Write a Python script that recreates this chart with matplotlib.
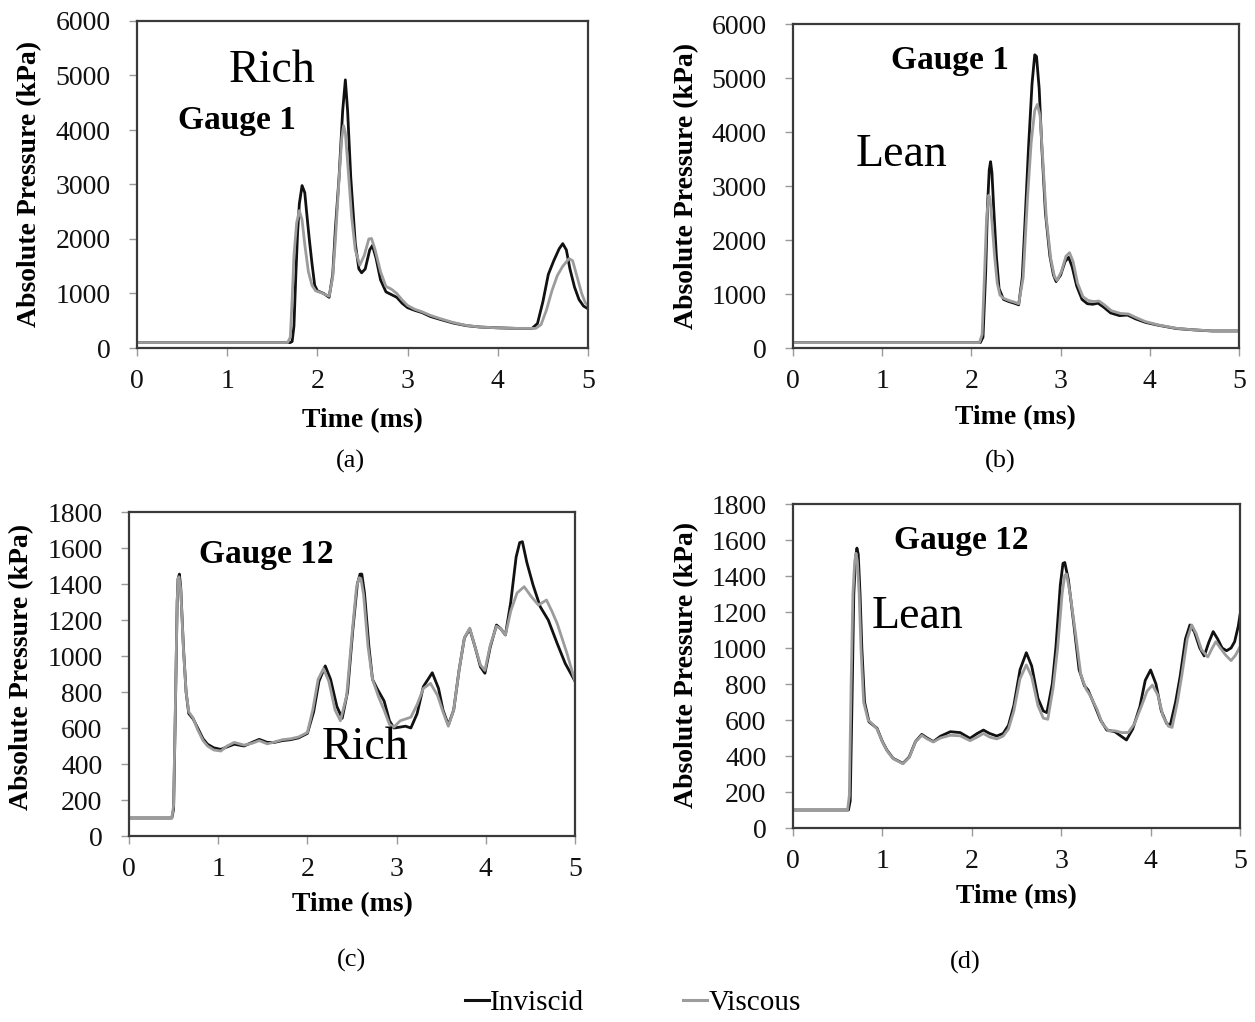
import matplotlib
matplotlib.use("Agg")
import matplotlib.pyplot as plt
from matplotlib.lines import Line2D
from matplotlib.ticker import MultipleLocator

plt.rcParams['font.family'] = ['Liberation Serif', 'DejaVu Serif']

W, H = 1255, 1022

# ---------------------------------------------------------------------------
# data (time in ms, absolute pressure in kPa)
# ---------------------------------------------------------------------------
# (a) Gauge 1, rich
t_a_inv = [0, 1.70, 1.72, 1.74, 1.76, 1.78, 1.80, 1.83, 1.86, 1.88, 1.91, 1.94, 1.97, 2.00,
           2.07, 2.13, 2.17, 2.20, 2.24, 2.28, 2.31, 2.335, 2.37, 2.42, 2.46, 2.49, 2.53,
           2.58, 2.61, 2.65, 2.70, 2.76, 2.82, 2.88, 2.94, 3.00, 3.08, 3.16, 3.25, 3.35,
           3.50, 3.65, 3.80, 4.00, 4.20, 4.38, 4.44, 4.50, 4.56, 4.62, 4.68, 4.72, 4.76,
           4.80, 4.85, 4.90, 4.95, 5.00]
p_a_inv = [100, 100, 120, 400, 1300, 2100, 2650, 2980, 2850, 2500, 2000, 1550, 1150, 1050,
           1000, 930, 1350, 2200, 3130, 4350, 4920, 4350, 3130, 1920, 1450, 1380, 1450,
           1800, 1880, 1650, 1250, 1030, 980, 930, 820, 740, 690, 650, 580, 530,
           460, 410, 385, 370, 360, 360, 450, 850, 1350, 1600, 1820, 1915, 1800,
           1450, 1120, 890, 770, 720]
t_a_vis = [0, 1.67, 1.70, 1.72, 1.74, 1.77, 1.80, 1.83, 1.86, 1.90, 1.94, 1.98, 2.05, 2.13,
           2.17, 2.20, 2.24, 2.27, 2.29, 2.31, 2.34, 2.38, 2.42, 2.47, 2.52, 2.57, 2.60,
           2.64, 2.70, 2.76, 2.82, 2.88, 2.94, 3.00, 3.08, 3.16, 3.25, 3.35, 3.50, 3.65,
           3.80, 4.00, 4.20, 4.42, 4.48, 4.54, 4.60, 4.66, 4.72, 4.79, 4.83, 4.88, 4.93,
           4.97, 5.00]
p_a_vis = [100, 100, 200, 900, 1700, 2300, 2520, 2350, 1900, 1400, 1150, 1050, 1010, 950,
           1300, 2000, 3100, 3850, 4080, 3950, 3300, 2400, 1800, 1520, 1700, 2000, 2010,
           1800, 1400, 1130, 1080, 1000, 880, 780, 710, 665, 600, 545, 470, 415,
           385, 370, 360, 360, 430, 700, 1050, 1330, 1500, 1640, 1600, 1300, 1000,
           830, 780]

# (b) Gauge 1, lean
t_b_inv = [0, 2.10, 2.13, 2.16, 2.18, 2.20, 2.215, 2.23, 2.25, 2.28, 2.31, 2.36, 2.42, 2.48,
           2.53, 2.57, 2.60, 2.64, 2.68, 2.71, 2.73, 2.76, 2.79, 2.83, 2.88, 2.92, 2.95,
           3.00, 3.05, 3.09, 3.13, 3.18, 3.24, 3.30, 3.36, 3.42, 3.48, 3.56, 3.66, 3.75,
           3.84, 3.95, 4.10, 4.30, 4.50, 4.70, 5.00]
p_b_inv = [100, 100, 200, 1400, 2600, 3300, 3450, 3250, 2600, 1700, 1100, 900, 860, 830,
           800, 1300, 2300, 3700, 4900, 5430, 5400, 4800, 3700, 2500, 1700, 1350, 1230,
           1350, 1600, 1680, 1500, 1150, 900, 820, 810, 830, 760, 650, 600, 610,
           540, 475, 420, 360, 335, 315, 315]
t_b_vis = [0, 2.09, 2.12, 2.15, 2.17, 2.195, 2.21, 2.23, 2.26, 2.29, 2.32, 2.36, 2.42, 2.48,
           2.53, 2.58, 2.63, 2.67, 2.71, 2.74, 2.77, 2.80, 2.84, 2.89, 2.93, 2.96, 3.01,
           3.06, 3.10, 3.14, 3.19, 3.25, 3.31, 3.37, 3.43, 3.49, 3.57, 3.67, 3.76, 3.85,
           3.95, 4.10, 4.30, 4.50, 4.70, 5.00]
p_b_vis = [100, 100, 250, 1500, 2400, 2830, 2750, 2350, 1700, 1200, 980, 920, 880, 850,
           820, 1300, 2800, 3800, 4400, 4510, 4300, 3500, 2400, 1650, 1330, 1250, 1420,
           1700, 1765, 1600, 1200, 950, 880, 860, 870, 800, 690, 640, 630, 560,
           490, 425, 365, 335, 318, 318]

# (c) Gauge 12, rich
t_c_inv = [0, 0.48, 0.50, 0.52, 0.54, 0.55, 0.565, 0.58, 0.61, 0.64, 0.67, 0.72, 0.77, 0.83,
           0.88, 0.95, 1.03, 1.10, 1.18, 1.29, 1.38, 1.46, 1.55, 1.63, 1.72, 1.81, 1.90,
           2.00, 2.07, 2.13, 2.20, 2.26, 2.33, 2.39, 2.45, 2.51, 2.56, 2.59, 2.61, 2.64,
           2.69, 2.73, 2.78, 2.86, 2.92, 2.97, 3.04, 3.10, 3.16, 3.23, 3.30, 3.40, 3.47,
           3.52, 3.58, 3.64, 3.70, 3.76, 3.82, 3.88, 3.94, 3.99, 4.05, 4.12, 4.17, 4.22,
           4.28, 4.34, 4.38, 4.41, 4.46, 4.53, 4.61, 4.70, 4.80, 4.89, 5.00]
p_c_inv = [100, 100, 150, 700, 1300, 1430, 1455, 1380, 1050, 800, 680, 650, 600, 540,
           510, 490, 481, 495, 510, 500, 520, 537, 520, 520, 530, 535, 545,
           570, 690, 860, 945, 870, 720, 654, 800, 1150, 1400, 1455, 1455, 1350,
           1050, 870, 820, 750, 640, 600, 605, 610, 600, 680, 830, 907, 820,
           700, 617, 700, 920, 1100, 1150, 1050, 940, 904, 1050, 1172, 1150, 1117,
           1300, 1550, 1630, 1635, 1520, 1394, 1274, 1200, 1070, 959, 860]
t_c_vis = [0, 0.48, 0.50, 0.52, 0.54, 0.55, 0.56, 0.58, 0.61, 0.64, 0.67, 0.72, 0.77, 0.83,
           0.88, 0.95, 1.03, 1.10, 1.18, 1.29, 1.38, 1.46, 1.55, 1.63, 1.72, 1.81, 1.90,
           2.00, 2.06, 2.12, 2.18, 2.24, 2.31, 2.37, 2.44, 2.50, 2.55, 2.58, 2.60, 2.63,
           2.68, 2.73, 2.80, 2.86, 2.92, 2.97, 3.04, 3.10, 3.16, 3.23, 3.30, 3.38, 3.46,
           3.52, 3.58, 3.64, 3.70, 3.76, 3.82, 3.88, 3.94, 3.99, 4.05, 4.12, 4.17, 4.22,
           4.28, 4.35, 4.43, 4.51, 4.59, 4.68, 4.74, 4.80, 4.91, 5.00]
p_c_vis = [100, 100, 170, 720, 1300, 1420, 1440, 1370, 1040, 800, 690, 655, 590, 530,
           500, 478, 472, 500, 520, 505, 515, 530, 512, 522, 535, 540, 550,
           575, 700, 870, 930, 860, 700, 640, 780, 1120, 1380, 1435, 1430, 1340,
           1050, 870, 770, 700, 620, 605, 640, 650, 660, 730, 820, 848, 780,
           690, 610, 700, 920, 1100, 1155, 1050, 950, 920, 1060, 1165, 1150, 1117,
           1250, 1350, 1385, 1330, 1283, 1311, 1250, 1181, 1015, 860]

# (d) Gauge 12, lean
t_d_inv = [0, 0.62, 0.64, 0.66, 0.68, 0.70, 0.715, 0.73, 0.75, 0.77, 0.80, 0.85, 0.90, 0.94,
           1.00, 1.05, 1.12, 1.23, 1.30, 1.37, 1.44, 1.50, 1.57, 1.65, 1.76, 1.87, 1.98,
           2.06, 2.13, 2.20, 2.28, 2.35, 2.41, 2.47, 2.54, 2.61, 2.67, 2.74, 2.80, 2.84,
           2.90, 2.94, 2.99, 3.02, 3.04, 3.08, 3.14, 3.20, 3.26, 3.30, 3.38, 3.44, 3.51,
           3.60, 3.67, 3.73, 3.80, 3.88, 3.94, 4.00, 4.06, 4.12, 4.18, 4.22, 4.28, 4.33,
           4.39, 4.44, 4.49, 4.55, 4.60, 4.65, 4.70, 4.75, 4.80, 4.85, 4.90, 4.94, 4.98,
           5.00]
p_d_inv = [100, 100, 150, 700, 1300, 1500, 1555, 1520, 1300, 1000, 700, 590, 570, 554,
           480, 433, 387, 359, 395, 480, 520, 500, 480, 510, 535, 530, 498,
           525, 544, 525, 511, 525, 570, 680, 880, 974, 900, 720, 650, 641,
           800, 1000, 1350, 1470, 1475, 1380, 1137, 880, 790, 767, 674, 600, 544,
           535, 510, 489, 550, 674, 820, 878, 800, 650, 580, 572, 700, 841,
           1050, 1128, 1090, 1000, 956, 1030, 1091, 1050, 1000, 985, 1000, 1035, 1120,
           1183]
t_d_vis = [0, 0.61, 0.63, 0.65, 0.67, 0.69, 0.705, 0.72, 0.74, 0.76, 0.79, 0.84, 0.90, 0.94,
           1.00, 1.05, 1.12, 1.23, 1.30, 1.37, 1.44, 1.50, 1.57, 1.65, 1.76, 1.87, 1.98,
           2.06, 2.13, 2.20, 2.28, 2.35, 2.41, 2.47, 2.54, 2.61, 2.67, 2.74, 2.80, 2.85,
           2.91, 2.96, 3.01, 3.04, 3.06, 3.10, 3.16, 3.22, 3.28, 3.32, 3.40, 3.46, 3.53,
           3.60, 3.68, 3.75, 3.82, 3.90, 3.96, 4.02, 4.08, 4.14, 4.20, 4.24, 4.30, 4.35,
           4.41, 4.46, 4.51, 4.57, 4.64, 4.69, 4.73, 4.78, 4.84, 4.90, 4.95, 5.00]
p_d_vis = [100, 100, 180, 800, 1300, 1480, 1526, 1480, 1300, 1000, 700, 600, 572, 550,
           478, 430, 385, 357, 392, 478, 515, 495, 478, 500, 515, 512, 485,
           505, 525, 505, 495, 510, 550, 650, 830, 906, 840, 680, 610, 604,
           780, 1000, 1300, 1405, 1410, 1300, 1080, 850, 770, 740, 660, 580, 540,
           540, 530, 530, 580, 680, 760, 794, 740, 620, 565, 559, 700, 850,
           1050, 1128, 1080, 990, 950, 1000, 1035, 1000, 960, 930, 960, 1007]

panel_letters = ['(a)', '(b)', '(c)', '(d)']
gauge_names = ['Gauge 1', 'Gauge 1', 'Gauge 12', 'Gauge 12']
mixtures = ['Rich', 'Lean', 'Rich', 'Lean']
y_tops = [6000, 6000, 1800, 1800]
y_steps = [1000, 1000, 200, 200]

INV_COLOR = '#111111'
VIS_COLOR = '#9c9c9c'


def fx(x):
    return x / W


def fy(y):
    return 1 - y / H


def box(left, right, top, bottom):
    """pixel box -> figure fraction rect"""
    return [fx(left), fy(bottom), (right - left) / W, (bottom - top) / H]


fig = plt.figure(figsize=(W / 100, H / 100), dpi=100)

boxes = [box(137, 588, 21, 348), box(793, 1239, 24, 348),
         box(129, 575, 512, 836), box(793, 1240, 504, 828)]
series = [(t_a_inv, p_a_inv, t_a_vis, p_a_vis), (t_b_inv, p_b_inv, t_b_vis, p_b_vis),
          (t_c_inv, p_c_inv, t_c_vis, p_c_vis), (t_d_inv, p_d_inv, t_d_vis, p_d_vis)]

# text positions in pixels (centre)
ylabel_pos = [(30, 184), (687, 186), (22, 667), (687, 665)]
xlabel_pos = [(362, 421), (1015, 418), (352, 905), (1016, 897)]
letter_pos = [(350, 461), (1000, 461), (352, 960), (965, 962)]
gauge_pos = [(237, 120), (950, 60), (266, 555), (961, 540)]
mix_pos = [(272, 71), (902, 155), (365, 748), (918, 617)]

for i in range(4):
    ax = fig.add_axes(boxes[i])
    t_inv, p_inv, t_vis, p_vis = series[i]
    ax.plot(t_inv, p_inv, color=INV_COLOR, lw=2.0, solid_joinstyle='round')
    ax.plot(t_vis, p_vis, color=VIS_COLOR, lw=2.0, solid_joinstyle='round')

    ax.set_xlim(0, 5)
    ax.set_ylim(0, y_tops[i])
    ax.xaxis.set_major_locator(MultipleLocator(1))
    ax.yaxis.set_major_locator(MultipleLocator(y_steps[i]))
    ax.tick_params(axis='both', direction='out', length=6, width=1.0,
                   color='#9a9a9a', labelsize=20, labelcolor='#111111')
    ax.tick_params(axis='y', pad=13)
    ax.tick_params(axis='x', pad=9)
    for sp in ax.spines.values():
        sp.set_color('#3a3a3a')
        sp.set_linewidth(1.6)

    fig.text(fx(ylabel_pos[i][0]), fy(ylabel_pos[i][1]), 'Absolute Pressure (kPa)',
             rotation=90, ha='center', va='center', fontsize=20, fontweight='bold')
    fig.text(fx(xlabel_pos[i][0]), fy(xlabel_pos[i][1]), 'Time (ms)',
             ha='center', va='center', fontsize=20, fontweight='bold')
    fig.text(fx(letter_pos[i][0]), fy(letter_pos[i][1]), panel_letters[i],
             ha='center', va='center', fontsize=19)
    fig.text(fx(gauge_pos[i][0]), fy(gauge_pos[i][1]), gauge_names[i],
             ha='center', va='center', fontsize=24, fontweight='bold')
    fig.text(fx(mix_pos[i][0]), fy(mix_pos[i][1]), mixtures[i],
             ha='center', va='center', fontsize=33)

handles = [Line2D([], [], color=INV_COLOR, lw=2.2), Line2D([], [], color=VIS_COLOR, lw=2.2)]
fig.legend(handles, ['Inviscid', 'Viscous'], loc='center', ncol=2, frameon=False,
           bbox_to_anchor=(fx(633), fy(1003)), fontsize=21, handlelength=0.8,
           handletextpad=0.05, columnspacing=3.4)

fig.savefig('out.png', dpi=100)
